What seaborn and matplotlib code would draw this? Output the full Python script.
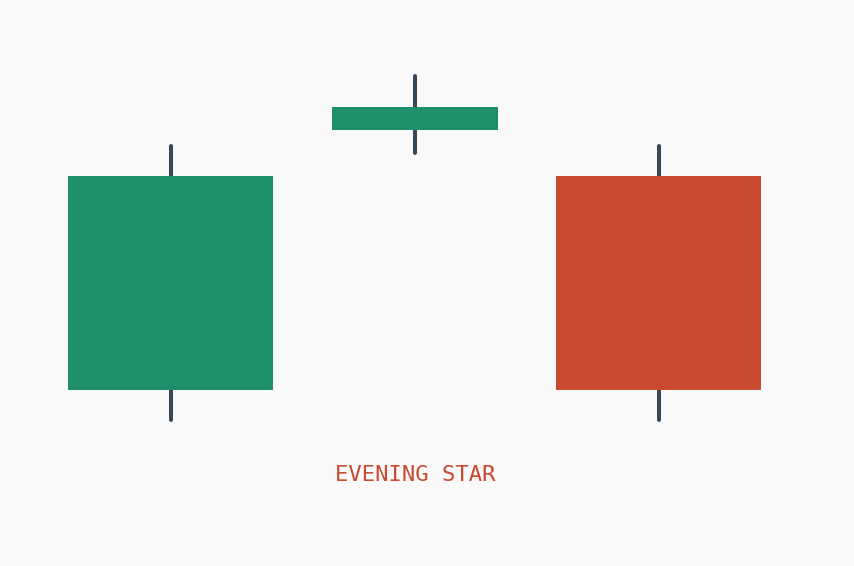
import matplotlib
matplotlib.use("Agg")
import matplotlib.pyplot as plt
import seaborn as sns
import pandas as pd

# evening star: bullish candle, small star gapping up, bearish candle
candles = ["c1", "c2", "c3"]
opens = [40.0, 112.9, 100.0]
closes = [100.0, 119.3, 40.0]
highs = [108.4, 127.8, 108.4]
lows = [31.6, 106.4, 31.6]
widths = [0.84, 0.68, 0.84]
label = "EVENING STAR"

up_color = "#1f8e6a"
down_color = "#c94a31"
wick_color = "#3a4855"
bg = "#f9f9f9"

df = pd.DataFrame({"candle": candles, "open": opens, "close": closes,
                   "high": highs, "low": lows, "width": widths})
df["pos"] = range(len(df))
df["bottom"] = df[["open", "close"]].min(axis=1)
df["height"] = (df["close"] - df["open"]).abs()
df["color"] = [up_color if c >= o else down_color for o, c in zip(df["open"], df["close"])]

sns.set_theme(style="white", rc={"figure.facecolor": bg, "axes.facecolor": bg})

fig = plt.figure(figsize=(8.545, 5.665), dpi=100)
ax = fig.add_axes([0, 0, 1, 1])

# wicks
ax.vlines(df["pos"], df["low"], df["high"], color=wick_color, linewidth=2.9,
          capstyle="round", zorder=1)
# bodies
ax.bar(df["pos"], df["height"], bottom=df["bottom"], width=df["width"],
       color=df["color"], linewidth=0, zorder=2)

ax.text(1, 16.4, label, ha="center", va="center", color=down_color,
        fontsize=16, family="DejaVu Sans Mono")

ax.set_xlim(-0.699, 2.801)
ax.set_ylim(-9.34, 149.34)
ax.axis("off")

fig.savefig("out.png", dpi=100, facecolor=bg)
